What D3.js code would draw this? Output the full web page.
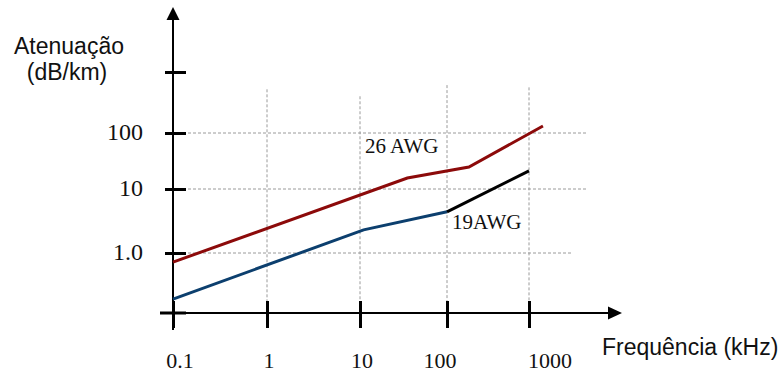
<!DOCTYPE html>
<html>
<head>
<meta charset="utf-8">
<script src="https://cdn.jsdelivr.net/npm/d3@7"></script>
<style>
	body { margin: 0; background: #fff; }
	svg { display: block; }
	.serif { font-family: "Liberation Serif", "Times New Roman", serif; fill: #111; }
	.sans { font-family: "Liberation Sans", Arial, sans-serif; fill: #111; }
</style>
</head>
<body>
<svg id="chart" width="783" height="375"></svg>
<script>
// frequency ticks (kHz) and attenuation ticks (dB/km)
const xTicks = [0.1, 1, 10, 100, 1000]
const xTickLabels = ["0.1", "1", "10", "100", "1000"]
const yTicks = [1, 10, 100, 1000]
const yTickLabels = ["1.0", "10", "100", ""]

// [frequency kHz, attenuation dB/km]
const awg26 = [[0.1, 0.72], [35, 15.7], [185, 24.7], [1480, 130]]
const awg19Low = [[0.1, 0.19], [11, 2.3], [100, 4.4]]
const awg19High = [[100, 4.4], [1000, 21]]

const seriesLabels = ["26 AWG", "19AWG"]
const seriesLabelAt = [[11.4, 44], [115, 2.37]]

// hand drawn axes: uneven decades
const x = d3.scaleLog().domain(xTicks).range([173, 267, 360, 447, 529])
const y = d3.scaleLog().domain(yTicks).range([253, 189, 133, 72])

const svg = d3.select("#chart")
const axisY = 313

// dashed grid
const hGridEnd = [3300, 5000, 5000]
const vGridTop = [520, 400, 610, 560]
svg.append("g").selectAll("line")
	.data(yTicks.slice(0, 3))
	.enter().append("line")
		.attr("x1", x(0.1)).attr("x2", (d, i) => x(hGridEnd[i]))
		.attr("y1", d => y(d)).attr("y2", d => y(d))
		.attr("stroke", "#9a9a9a").attr("stroke-width", 1).attr("stroke-dasharray", "3,2")
svg.append("g").selectAll("line")
	.data(xTicks.slice(1))
	.enter().append("line")
		.attr("x1", d => x(d)).attr("x2", d => x(d))
		.attr("y1", (d, i) => y(vGridTop[i])).attr("y2", axisY - 12)
		.attr("stroke", "#9a9a9a").attr("stroke-width", 1).attr("stroke-dasharray", "3,2")

// axes
const xAxis = svg.append("g")
	.attr("transform", `translate(0, ${axisY})`)
	.call(d3.axisBottom(x).tickValues(xTicks).tickSizeOuter(0).tickFormat(""))
xAxis.select(".domain").remove()
xAxis.selectAll(".tick line").attr("y1", -12).attr("y2", 15).attr("stroke", "#000").attr("stroke-width", 3)

const yAxis = svg.append("g")
	.attr("transform", `translate(${x(0.1)}, 0)`)
	.call(d3.axisLeft(y).tickValues(yTicks).tickSizeOuter(0).tickFormat(""))
yAxis.select(".domain").remove()
yAxis.selectAll(".tick line").attr("x1", -8).attr("x2", 13).attr("stroke", "#000").attr("stroke-width", 3)

// origin cross
svg.append("line").attr("x1", x(0.1) - 13).attr("x2", x(0.1) + 13)
	.attr("y1", axisY).attr("y2", axisY).attr("stroke", "#000").attr("stroke-width", 3)

svg.append("line").attr("x1", x(0.1) - 13).attr("x2", 609)
	.attr("y1", axisY).attr("y2", axisY).attr("stroke", "#000").attr("stroke-width", 2)
svg.append("path").attr("d", `M622,${axisY} L608,${axisY - 6.5} L608,${axisY + 6.5} Z`).attr("fill", "#000")

svg.append("line").attr("x1", x(0.1)).attr("x2", x(0.1))
	.attr("y1", 19).attr("y2", 330).attr("stroke", "#000").attr("stroke-width", 2)
svg.append("path").attr("d", `M${x(0.1)},7 L${x(0.1) - 6.5},20 L${x(0.1) + 6.5},20 Z`).attr("fill", "#000")

// tick labels
const xLabelShift = [7, 2, 2, -7, 21]
svg.append("g").selectAll("text")
	.data(xTicks)
	.enter().append("text")
		.attr("class", "serif")
		.attr("x", (d, i) => x(d) + xLabelShift[i])
		.attr("y", 368)
		.attr("text-anchor", "middle")
		.style("font-size", "22px")
		.text((d, i) => xTickLabels[i])

svg.append("g").selectAll("text")
	.data(yTicks)
	.enter().append("text")
		.attr("class", "serif")
		.attr("x", 143)
		.attr("y", d => y(d) + 7)
		.attr("text-anchor", "end")
		.style("font-size", "24px")
		.text((d, i) => yTickLabels[i])

// series
const line = d3.line().x(d => x(d[0])).y(d => y(d[1]))
const series = [[awg26, "#8c0a0a"], [awg19Low, "#0c3f6e"], [awg19High, "#000"]]
svg.append("g").selectAll("path")
	.data(series)
	.enter().append("path")
		.attr("d", d => line(d[0]))
		.attr("fill", "none")
		.attr("stroke", d => d[1])
		.attr("stroke-width", 3)

svg.append("g").selectAll("text")
	.data(seriesLabels)
	.enter().append("text")
		.attr("class", "serif")
		.attr("x", (d, i) => x(seriesLabelAt[i][0]))
		.attr("y", (d, i) => y(seriesLabelAt[i][1]))
		.style("font-size", "21px")
		.text(d => d)

// axis titles
const yTitle = svg.append("text").attr("class", "sans").style("font-size", "23px").attr("text-anchor", "middle")
yTitle.append("tspan").attr("x", 69).attr("y", 54).text("Atenuação")
yTitle.append("tspan").attr("x", 67).attr("y", 80).text("(dB/km)")

svg.append("text").attr("class", "sans").style("font-size", "23px")
	.attr("x", 602).attr("y", 355)
	.text("Frequência (kHz)")
</script>
</body>
</html>
